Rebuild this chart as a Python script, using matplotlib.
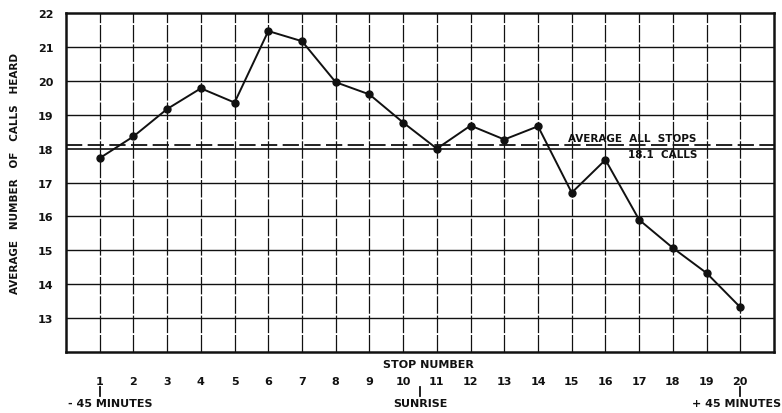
import matplotlib.pyplot as plt
import numpy as np

# average number of calls heard at each stop
stops = np.arange(1, 21)
calls = [17.72, 18.36, 19.17, 19.78, 19.36, 21.47, 21.17, 19.96, 19.6, 18.77,
         18.0, 18.68, 18.27, 18.66, 16.7, 17.67, 15.9, 15.07, 14.33, 13.32]
avg_all = 18.1
y_ticks = list(range(13, 23))

INK = '#111111'
FONT = dict(fontweight='bold', color=INK, family='DejaVu Sans')

fig = plt.figure(figsize=(7.82, 4.14), dpi=100)
ax = fig.add_axes([0.0844, 0.1473, 0.9054, 0.8187])

# hand-drawn looking grid
for s in range(1, 21):
    ax.axvline(s, color=INK, lw=0.9, ls=(0, (14, 1.5)), zorder=1)
for v in range(13, 22):
    ax.axhline(v, color=INK, lw=1.0 if v != 18 else 1.2, zorder=1)

# average of all stops
ax.axhline(avg_all, color=INK, lw=1.3, ls=(0, (9, 3)), zorder=2)
ax.text(16.78, avg_all + 0.08, 'AVERAGE  ALL  STOPS', ha='center', va='bottom', fontsize=7.5, **FONT)
ax.text(17.7, avg_all - 0.12, '18.1  CALLS', ha='center', va='top', fontsize=7.5, **FONT)

ax.plot(stops, calls, color=INK, lw=1.4, marker='o', ms=5, zorder=3)

ax.set_xlim(0, 21)
ax.set_ylim(12, 22)
ax.set_yticks(y_ticks)
ax.set_yticklabels([str(v) for v in y_ticks], fontsize=8, **FONT)
ax.set_xticks(stops)
ax.set_xticklabels([str(s) for s in stops], fontsize=8, **FONT)
ax.tick_params(length=0, pad=17, axis='x')
ax.tick_params(length=0, pad=9, axis='y')
for sp in ax.spines.values():
    sp.set_linewidth(1.8)
    sp.set_color(INK)

ax.set_ylabel('AVERAGE   NUMBER   OF   CALLS   HEARD', fontsize=7.5, **FONT)
ax.yaxis.set_label_coords(-0.065, 0.53)

# x-axis annotations below the stop numbers
tr = ax.get_xaxis_transform()
ax.text(10.75, -0.022, 'STOP NUMBER', transform=tr, ha='center', va='top', fontsize=8, **FONT)
for xs in (1, 10.5, 20):
    ax.plot([xs, xs], [-0.103, -0.13], transform=tr, color=INK, lw=1.3, clip_on=False)
ax.text(0.05, -0.136, '- 45 MINUTES', transform=tr, ha='left', va='top', fontsize=8, **FONT)
ax.text(10.5, -0.136, 'SUNRISE', transform=tr, ha='center', va='top', fontsize=8, **FONT)
ax.text(21.2, -0.136, '+ 45 MINUTES', transform=tr, ha='right', va='top', fontsize=8, **FONT)

fig.savefig('out.png', dpi=100)
